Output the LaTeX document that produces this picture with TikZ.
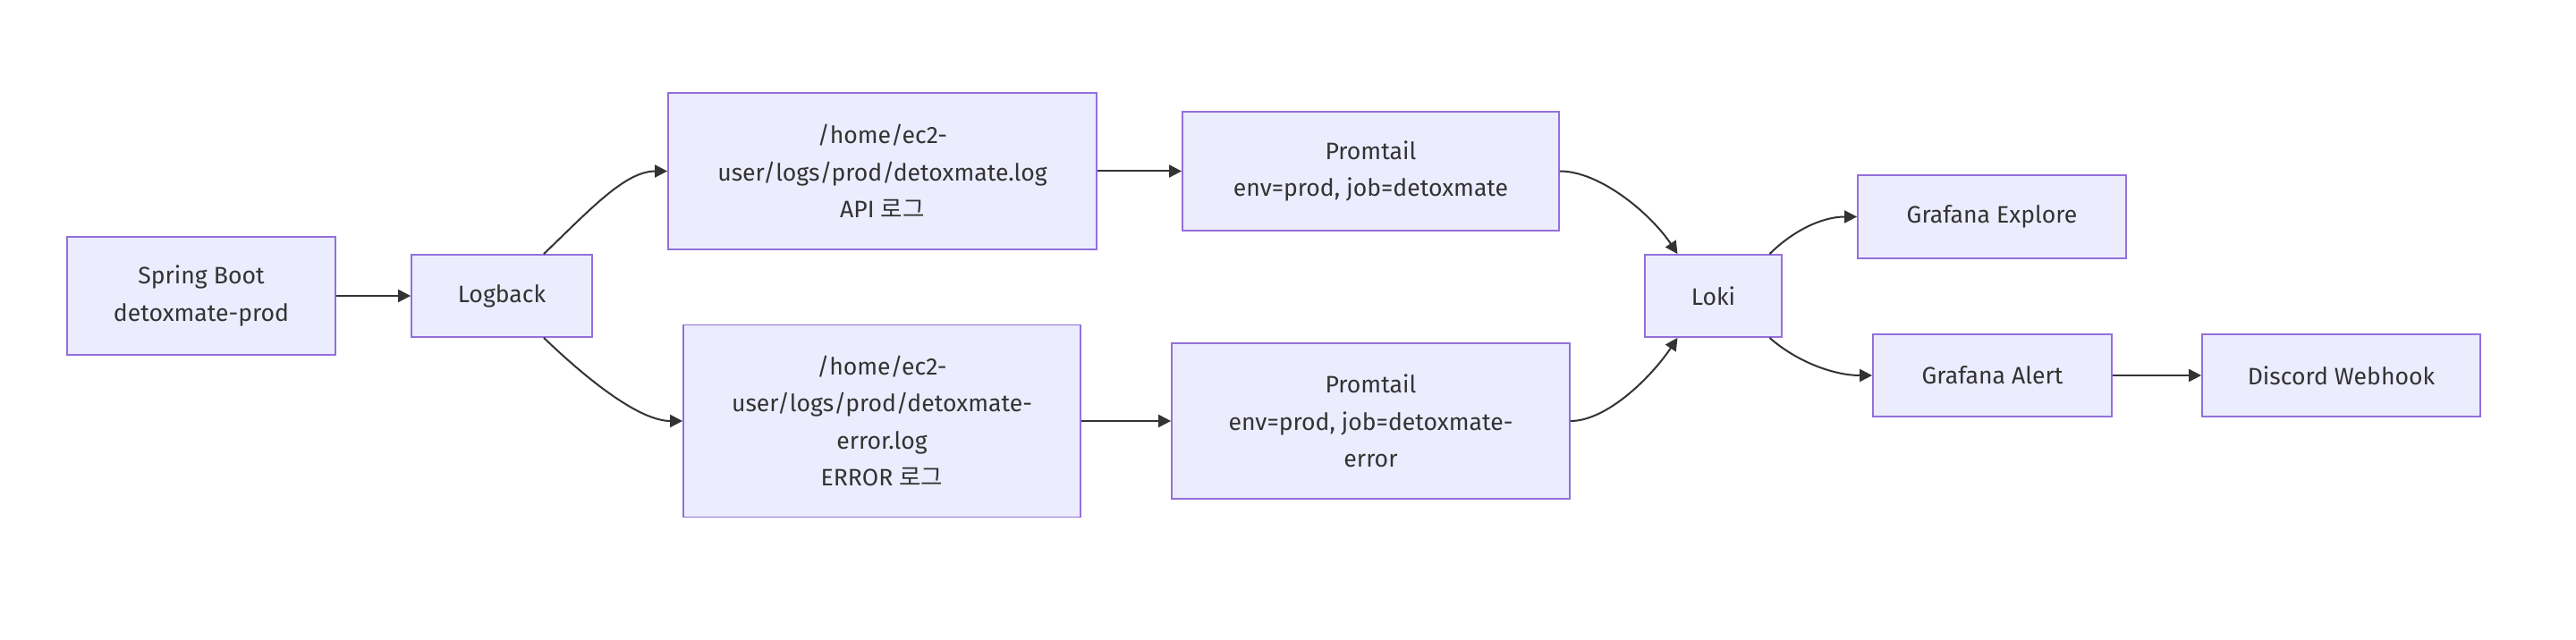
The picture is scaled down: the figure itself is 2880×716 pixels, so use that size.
\documentclass[tikz,border=0pt]{standalone}
\usepackage{fontspec}
\setmainfont{Fira Sans}
\newfontfamily\kr{Noto Sans CJK KR}
\usetikzlibrary{arrows.meta}
\definecolor{nodefill}{HTML}{ECECFF}
\definecolor{nodeline}{HTML}{9370DB}
\definecolor{ink}{HTML}{333333}
\begin{document}
\begin{tikzpicture}[x=0.5pt,y=-0.5pt,
  box/.style={draw=nodeline, fill=nodefill, line width=0.9pt, inner sep=0pt, align=center, text=ink,
    font=\fontsize{13.3pt}{20.8pt}\selectfont, anchor=center},
  arr/.style={draw=ink, line width=1pt, -{Triangle[length=7pt,width=7pt]}}]
\useasboundingbox[fill=white] (0,0) rectangle (2880,716);
\node[box, minimum width=150pt, minimum height=66pt] (spring) at (225,331) {Spring Boot\\detoxmate-prod};
\node[box, minimum width=101pt, minimum height=46pt] (logback) at (561,331) {Logback};
\node[box, minimum width=239.5pt, minimum height=87.5pt] (api) at (986.5,191.5) {/home/ec2-\\user/logs/prod/detoxmate.log\\API {\kr 로그}};
\node[box, minimum width=222pt, minimum height=107.5pt] (err) at (986,471) {/home/ec2-\\user/logs/prod/detoxmate-\\error.log\\ERROR {\kr 로그}};
\node[box, minimum width=210.5pt, minimum height=66.5pt] (prom1) at (1532.5,191.5) {Promtail\\env=prod, job=detoxmate};
\node[box, minimum width=222.5pt, minimum height=87pt] (prom2) at (1532.5,471) {Promtail\\env=prod, job=detoxmate-\\error};
\node[box, minimum width=76.5pt, minimum height=46pt] (loki) at (1915.5,331) {Loki};
\node[box, minimum width=150pt, minimum height=46.5pt] (explore) at (2227,242.5) {Grafana Explore};
\node[box, minimum width=133.5pt, minimum height=46pt] (alert) at (2227.5,420) {Grafana Alert};
\node[box, minimum width=155.5pt, minimum height=46pt] (discord) at (2617.5,420) {Discord Webhook};

\draw[arr] (spring) -- (logback);
\draw[arr] ([xshift=23.5pt]logback.north) .. controls +(52,-50) and +(-47,0) .. (api.west);
\draw[arr] ([xshift=23.5pt]logback.south) .. controls +(52,50) and +(-47,0) .. (err.west);
\draw[arr] (api) -- (prom1);
\draw[arr] (err) -- (prom2);
\draw[arr] (prom1.east) .. controls +(45,0) and +(-30,-45) .. ([xshift=-20pt]loki.north);
\draw[arr] (prom2.east) .. controls +(40,0) and +(-30,45) .. ([xshift=-20pt]loki.south);
\draw[arr] ([xshift=31.5pt]loki.north) .. controls +(25,-25) and +(-40,0) .. (explore.west);
\draw[arr] ([xshift=31.5pt]loki.south) .. controls +(28,25) and +(-45,0) .. (alert.west);
\draw[arr] (alert) -- (discord);
\end{tikzpicture}
\end{document}
